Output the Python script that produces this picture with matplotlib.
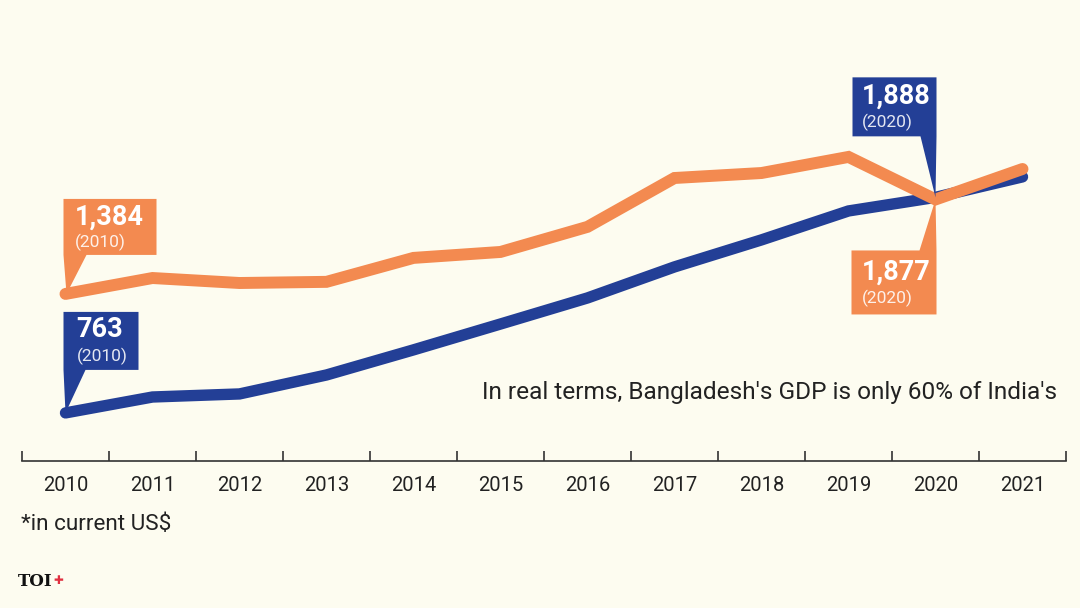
import matplotlib
matplotlib.use("Agg")
import matplotlib.pyplot as plt
import matplotlib.transforms as mtransforms
from matplotlib.patches import Polygon
from matplotlib import font_manager

# ---------------- data ----------------
years = ["2010", "2011", "2012", "2013", "2014", "2015", "2016", "2017", "2018", "2019", "2020", "2021"]
india = [1384, 1467, 1441, 1447, 1572, 1603, 1734, 1989, 2015, 2099, 1877, 2036]
bangladesh = [763, 846, 862, 961, 1092, 1227, 1363, 1525, 1666, 1817, 1888, 1995]
note_text = "In real terms, Bangladesh's GDP is only 60% of India's"
footnote = "*in current US$"

BG = "#fdfcf0"
ORANGE = "#f38a50"
BLUE = "#233f96"
DARK = "#222222"

names = {f.name for f in font_manager.fontManager.ttflist}
COND = "Liberation Sans Narrow" if "Liberation Sans Narrow" in names else "Roboto"

fig = plt.figure(figsize=(10.8, 6.08), dpi=100, facecolor=BG)
ax = fig.add_axes([22 / 1080, 1 - 461 / 608, 1044 / 1080, 461 / 608])
ax.set_facecolor(BG)

x = list(range(len(years)))
ax.plot(x, bangladesh, color=BLUE, lw=8.2, solid_capstyle="round", solid_joinstyle="miter", zorder=3)
ax.plot(x, india, color=ORANGE, lw=8.6, solid_capstyle="round", solid_joinstyle="miter", zorder=4)

ax.set_xlim(-0.5, len(years) - 0.5)
ax.set_ylim(512, 2918)

for s in ["left", "right", "top"]:
    ax.spines[s].set_visible(False)
ax.spines["bottom"].set_color("#333333")
ax.spines["bottom"].set_linewidth(1.2)
ax.set_yticks([])
ax.set_xticks([i - 0.5 for i in range(len(years) + 1)])
ax.set_xticklabels([])
ax.tick_params(axis="x", which="major", direction="in", length=7, width=1.2, color="#333333")
ax.set_xticks(x, minor=True)
ax.set_xticklabels(years, minor=True, fontsize=14.5, family=COND, color=DARK)
ax.tick_params(axis="x", which="minor", length=0, pad=11)


def callout(xi, yv, verts, color, texts):
    """verts/text positions in pixel offsets from the data point (y up)."""
    trans = fig.dpi_scale_trans + mtransforms.ScaledTranslation(xi, yv, ax.transData)
    poly = Polygon([(vx / 100, vy / 100) for vx, vy in verts], closed=True,
                   facecolor=color, edgecolor="none", transform=trans, zorder=5, clip_on=False)
    ax.add_patch(poly)
    for tx, ty, s, size, weight, alpha in texts:
        ax.text(tx / 100, ty / 100, s, transform=trans, fontsize=size, fontweight=weight,
                family=COND, color="white", alpha=alpha, ha="left", va="center", zorder=6)


# India 2010
callout(0, india[0],
        [(-2, 95), (91, 95), (91, 39), (21, 39), (1, 0), (-2, 39)], ORANGE,
        [(9, 77, "1,384", 19.5, "bold", 1.0), (9, 52, "(2010)", 12.5, "normal", 0.88)])
# Bangladesh 2010
callout(0, bangladesh[0],
        [(-2, 101), (73, 101), (73, 43), (20, 43), (0, 0), (-2, 43)], BLUE,
        [(11, 83, "763", 19.5, "bold", 1.0), (11, 57, "(2010)", 12.5, "normal", 0.88)])
# Bangladesh 2020
callout(10, bangladesh[10],
        [(-83, 120), (1, 120), (1, 61), (0, 0), (-15, 61), (-83, 61)], BLUE,
        [(-74, 101, "1,888", 19.5, "bold", 1.0), (-74, 75, "(2020)", 12.5, "normal", 0.88)])
# India 2020
callout(10, india[10],
        [(-84, -115), (1, -115), (1, -51), (0, 0), (-16, -51), (-84, -51)], ORANGE,
        [(-74, -73, "1,877", 19.5, "bold", 1.0), (-74, -99, "(2020)", 12.5, "normal", 0.88)])

fig.text(1057 / 1080, 1 - 392 / 608, note_text, fontsize=17.6, family=COND, color=DARK,
         ha="right", va="center")
fig.text(21 / 1080, 1 - 524 / 608, footnote, fontsize=16.2, family=COND, color=DARK,
         ha="left", va="center")
fig.text(18 / 1080, 1 - 582 / 608, "TOI", fontsize=12, family="DejaVu Serif", fontweight="bold",
         color="#111111", ha="left", va="center")
fig.text(53 / 1080, 1 - 581 / 608, "\u271a", fontsize=8.5, family="DejaVu Sans",
         color="#e03040", ha="left", va="center")

fig.savefig("out.png", dpi=100, facecolor=BG)
